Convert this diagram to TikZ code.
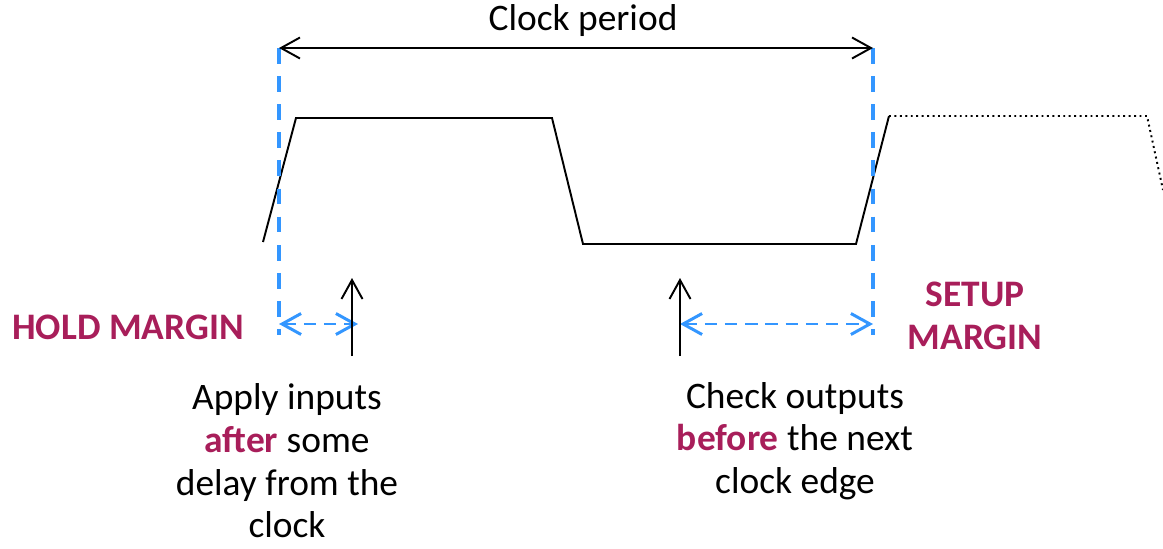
\documentclass[tikz,border=0pt]{standalone}
\usepackage{fontspec}
\setmainfont{Carlito}
\usetikzlibrary{arrows.meta}
\definecolor{margin}{RGB}{168,30,90}
\definecolor{edgeblue}{RGB}{51,150,255}
\tikzset{
  barb/.tip={Straight Barb[length=0.38cm,width=0.42cm]},
  wave/.style={line width=1.1pt},
  edge/.style={edgeblue,line width=2.2pt,dash pattern=on 9pt off 7pt},
  span/.style={edgeblue,line width=1.7pt,dash pattern=on 7pt off 4.5pt,barb-barb},
  probe/.style={line width=1.1pt,-barb},
  txt/.style={font=\fontsize{21.3}{24.3}\selectfont,align=center,inner sep=0pt},
  warn/.style={txt,text=margin,font=\fontsize{21.3}{24.3}\selectfont\bfseries}
}
\begin{document}
\begin{tikzpicture}[x=0.02cm,y=-0.02cm]
\useasboundingbox (0,0) rectangle (1163,548);
% clock waveform
\draw[wave] (263,242)--(296,118)--(552,118)--(583,244)--(856,244)--(889,116);
\draw[wave,dotted] (889,116)--(1147,116)--(1163,190);
% clock edges
\coordinate (e1top) at (279,48);
\coordinate (e1bot) at (279,335);
\coordinate (e2top) at (873,48);
\coordinate (e2bot) at (873,335);
\draw[edge] (e1top)--(e1bot);
\draw[edge] (e2top)--(e2bot);
\draw[line width=1.1pt,barb-barb] (e1top)--(e2top);
\node[txt] (period) at (583,21) {Clock period};
% margins
\coordinate (hl) at (279,324);
\coordinate (hr) at (358,324);
\coordinate (sl) at (680,324);
\coordinate (sr) at (873,324);
\draw[span] (hl)--(hr);
\draw[span] (sl)--(sr);
\coordinate (applyb) at (352,356);
\coordinate (applyt) at (352,278);
\coordinate (checkb) at (680,356);
\coordinate (checkt) at (680,278);
\draw[probe] (applyb)--(applyt);
\draw[probe] (checkb)--(checkt);
\node[warn] (hold) at (128,327) {HOLD MARGIN};
\node[warn] (setup) at (975,316) {SETUP\\MARGIN};
\node[txt] (apply) at (287,461) {Apply inputs\\{\bfseries\color{margin}after} some\\delay from the\\clock};
\node[txt] (check) at (795,441) {Check outputs\\{\bfseries\color{margin}before} the next\\clock edge};
\end{tikzpicture}
\end{document}
